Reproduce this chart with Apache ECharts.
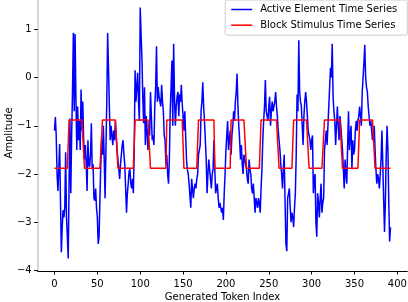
<!DOCTYPE html>
<html>
<head>
<meta charset="utf-8">
<script src="https://cdn.jsdelivr.net/npm/echarts@6/dist/echarts.min.js"></script>
<style>
html,body{margin:0;padding:0;background:#fff;}
#chart{width:408px;height:302px;}
</style>
</head>
<body>
<div id="chart"></div>
<script>
// Active element time series (one value per generated token index 0..392)
const activeSeries = [
-1.1,-0.82,-1.2,-2.0,-2.35,-1.9,-1.38,-2.6,-3.62,-3.1,
-2.75,-2.9,-2.7,-1.55,-2.9,-3.3,-3.75,-2.2,-0.85,-2.4,
-1.2,-0.3,0.93,-0.7,0.9,-0.4,-1.5,-0.6,-1.3,-0.9,
-1.5,-0.25,-1.1,-0.5,-1.3,-1.7,-1.4,-1.8,-2.35,-1.3,
-1.8,-1.85,-1.6,-0.95,-1.9,-1.8,-2.5,-2.55,-2.3,-2.7,
-2.9,-3.45,-3.3,-2.5,-1.8,-1.3,-1.6,-1.0,-1.7,-2.5,
-1.5,-0.5,0.92,0.2,-0.6,-1.3,-1.0,-1.2,-1.4,-1.1,
-1.3,-0.9,-1.2,-1.5,-1.7,-1.9,-2.1,-1.8,-1.6,-1.4,
-1.3,-1.6,-1.8,-2.3,-2.8,-2.4,-2.2,-1.95,-1.9,-2.2,
-2.3,-2.1,-2.4,-1.5,0.15,-0.5,-0.2,0.1,-0.5,-0.9,
1.45,0.9,0.4,-0.4,-0.95,-0.2,-1.4,-0.8,-1.1,-1.5,
-1.0,-1.2,-0.3,-0.8,-1.3,-1.2,-1.4,-0.6,-0.2,0.65,
-0.5,-0.2,-0.4,-0.5,-0.6,-0.15,-0.5,-0.7,-1.2,-1.3,
-1.8,-1.6,-2.0,-2.2,-1.7,-0.7,-0.2,0.35,-1.0,0.7,
-0.4,-1.0,-0.6,-0.4,-0.3,-0.8,-0.35,-0.5,-0.15,-0.55,
-0.8,-1.1,-0.7,-1.2,-1.7,-1.9,-2.0,-2.2,-2.45,-2.7,
-2.1,-2.3,-2.5,-2.3,-2.2,-2.3,-2.1,-2.0,-1.6,-1.5,
-1.4,-0.7,-0.5,-0.1,-0.6,-0.9,-1.3,-1.7,-2.4,-2.0,
-1.7,-1.9,-2.1,-2.3,-2.0,-1.9,-1.3,-1.9,-2.4,-2.3,
-2.2,-2.5,-2.7,-2.6,-2.7,-2.8,-2.7,-2.95,-2.4,-2.0,
-1.5,-1.2,-0.9,-1.5,-1.3,-1.1,-1.6,-1.2,-1.0,-0.7,
-0.9,-0.5,-0.3,0.08,-0.6,-1.0,-1.3,-1.7,-1.4,-1.8,
-2.0,-1.6,-1.7,-1.8,-1.9,-2.1,-2.2,-1.7,-1.9,-2.0,
-2.3,-2.4,-2.2,-2.5,-2.8,-2.5,-2.6,-2.7,-2.5,-2.6,
-2.8,-2.3,-1.9,-1.3,-0.9,-0.6,-0.05,-0.7,-0.8,-0.9,
-0.6,-0.4,-1.0,-0.7,-0.5,-0.7,-0.6,-0.5,-0.3,-0.6,
-0.8,-1.1,-1.3,-1.5,-1.8,-2.0,-2.3,-1.9,-1.6,-2.6,
-3.45,-3.6,-2.5,-2.4,-2.3,-2.7,-3.0,-2.8,-2.9,-3.1,
-2.7,-2.4,-1.6,-0.35,-0.7,0.77,-0.3,-0.5,-0.6,-1.0,
-1.4,-0.8,-0.5,-0.3,-0.5,-0.8,-1.1,-1.2,-1.3,-1.5,
-1.3,-1.2,-2.4,-2.1,-2.0,-3.0,-3.3,-2.4,-2.6,-2.9,
-2.5,-2.2,-2.8,-2.6,-2.5,-1.5,-1.3,-1.1,-1.4,-1.0,
-0.6,-0.2,0.2,0.0,0.7,-0.4,-0.7,-0.9,-1.4,-1.0,
-0.6,-1.0,-1.3,-0.8,-1.0,-1.0,-1.5,-1.9,-2.3,-1.7,
-2.0,-2.2,-1.4,-0.7,-1.5,-1.2,-1.0,-1.9,-1.3,-1.6,
-1.5,-1.1,-0.9,-1.1,-0.9,-0.8,-0.6,-0.8,-1.0,-0.3,
0.0,0.3,0.68,0.0,-0.2,-0.3,-0.6,-0.8,-1.0,-0.9,
-1.1,-1.3,-1.2,-1.0,-1.5,-1.9,-2.2,-2.0,-2.1,-2.3,
-2.0,-1.7,-1.1,-1.8,-2.5,-3.2,-2.6,-1.6,-1.0,-1.5,
-2.6,-3.4,-3.1
];
// Block stimulus: first "on" index and first "off" index of each block, off/on levels
const blockOnsets  = [17, 56, 94, 131, 168, 206, 241, 279, 315, 356];
const blockOffsets = [35, 74, 112, 151, 187, 224, 262, 297, 336, 374];
const blockLevels  = [-1.88, -0.88];
const xTicks = [0, 50, 100, 150, 200, 250, 300, 350, 400];
const yTicks = [-4, -3, -2, -1, 0, 1];

const activeData = activeSeries.map((v, i) => [i, v]);
const blockData = activeSeries.map((_, i) => {
  let on = false;
  for (let k = 0; k < blockOnsets.length; k++) {
    if (i >= blockOnsets[k] && i < blockOffsets[k]) on = true;
  }
  return [i, on ? blockLevels[1] : blockLevels[0]];
});

const fmt = v => String(v).replace('-', '\u2212');
const font = 'DejaVu Sans';

const chart = echarts.init(document.getElementById('chart'), null, {renderer: 'canvas'});
chart.setOption({
  animation: false,
  backgroundColor: '#ffffff',
  textStyle: {fontFamily: font},
  grid: {left: 37.7, right: 0.7, top: -5, bottom: 31, containLabel: false, outerBoundsMode: 'none'},
  legend: {
    top: 0, right: 0.7,
    orient: 'vertical',
    icon: 'rect',
    itemWidth: 21, itemHeight: 1.5,
    itemGap: 5.7,
    padding: [4.5, 10, 5, 6],
    backgroundColor: 'rgba(255,255,255,0.8)',
    borderColor: '#cccccc', borderWidth: 1, borderRadius: 2,
    textStyle: {fontFamily: font, fontSize: 10, color: '#000', padding: [0, 0, 0, 3]},
    data: ['Active Element Time Series', 'Block Stimulus Time Series']
  },
  xAxis: {
    type: 'value', min: -19.6, max: 411.6,
    name: 'Generated Token Index', nameLocation: 'middle', nameGap: 21, nameMoveOverlap: false,
    nameTextStyle: {fontFamily: font, fontSize: 10, color: '#000'},
    axisLine: {show: true, onZero: false, lineStyle: {color: '#000', width: 1}},
    axisTick: {show: true, length: 3.5, inside: false, customValues: xTicks, lineStyle: {color: '#000'}},
    axisLabel: {customValues: xTicks, margin: 8, fontFamily: font, fontSize: 10, color: '#000', formatter: fmt},
    splitLine: {show: false}
  },
  yAxis: {
    type: 'value', min: -4.01, max: 1.71,
    name: 'Amplitude', nameLocation: 'middle', nameGap: 23, nameRotate: 90, nameMoveOverlap: false,
    nameTextStyle: {fontFamily: font, fontSize: 10, color: '#000'},
    axisLine: {show: true, onZero: false, lineStyle: {color: '#c8c8c8', width: 1.5}},
    axisTick: {show: true, length: 3.5, inside: false, customValues: yTicks, lineStyle: {color: '#000'}},
    axisLabel: {customValues: yTicks, margin: 6, fontFamily: font, fontSize: 10, color: '#000', formatter: fmt},
    splitLine: {show: false}
  },
  series: [
    {
      name: 'Active Element Time Series', type: 'line', data: activeData,
      showSymbol: false, symbol: 'none', color: '#0000ff',
      lineStyle: {color: '#0000ff', width: 1.5}, z: 2
    },
    {
      name: 'Block Stimulus Time Series', type: 'line', data: blockData,
      showSymbol: false, symbol: 'none', color: '#ff0000',
      lineStyle: {color: '#ff0000', width: 1.5}, z: 3
    }
  ]
});
</script>
</body>
</html>
